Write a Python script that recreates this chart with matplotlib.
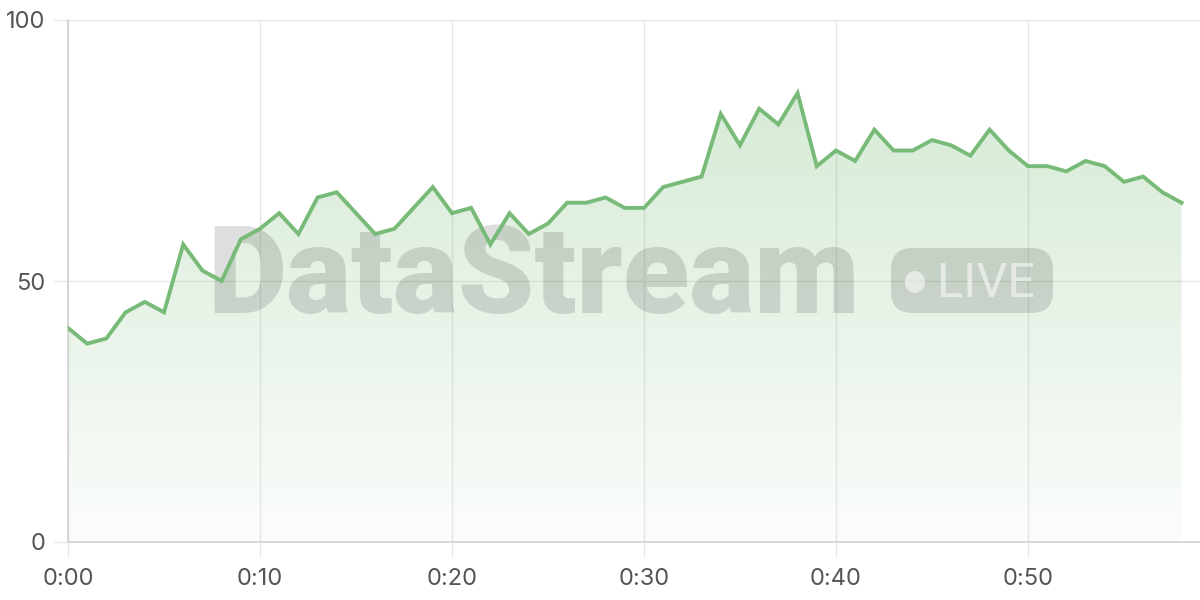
import matplotlib
matplotlib.use('Agg')
from matplotlib import pyplot as plt
from matplotlib.patches import FancyBboxPatch, Ellipse
import numpy as np

# one reading per minute, 0:00 .. 0:58
minutes = list(range(59))
values = [41, 38, 39, 44, 46, 44, 57, 52, 50, 58,
          60, 63, 59, 66, 67, 63, 59, 60, 64, 68,
          63, 64, 57, 63, 59, 61, 65, 65, 66, 64,
          64, 68, 69, 70, 82, 76, 83, 80, 86, 72,
          75, 73, 79, 75, 75, 77, 76, 74, 79, 75,
          72, 72, 71, 73, 72, 69, 70, 67, 65]
xticks = [0, 10, 20, 30, 40, 50]
yticks = [0, 50, 100]

line_color = '#78bb78'
grid_color = '#e8e8e8'
axis_color = '#d2d2d2'
label_color = '#555555'

plt.rcParams['font.family'] = ['Inter', 'DejaVu Sans']

W, H = 1200, 600
fig = plt.figure(figsize=(12, 6), dpi=100)
ax = fig.add_axes([68 / W, (H - 542) / H, (W - 68) / W, (542 - 20) / H])
ax.set_xlim(0, 58.96)
ax.set_ylim(0, 100)

# gradient fill under the line
poly = ax.fill_between(minutes, values, 0, color='none', lw=0)
grad = np.linspace(0.03, 0.30, 256).reshape(-1, 1)
rgba = np.zeros((256, 1, 4))
rgba[..., 0] = 0.47
rgba[..., 1] = 0.73
rgba[..., 2] = 0.47
rgba[..., 3] = grad
img = ax.imshow(rgba, extent=[0, 58, 0, max(values)], origin='lower',
                aspect='auto', zorder=1)
path = poly.get_paths()[0]
img.set_clip_path(path, transform=ax.transData)

ax.plot(minutes, values, color=line_color, lw=2.8, zorder=4,
        solid_joinstyle='miter')

# watermark
def px(x, y):
    return x / W, (H - y) / H

ax.text(*px(207, 313), 'DataStream', transform=fig.transFigure,
        fontsize=88, fontweight='black', family='Roboto', color='black',
        alpha=0.13, ha='left', va='baseline', zorder=3)
bx, by = px(891, 313)
badge = FancyBboxPatch((bx, by), 162 / W, 65 / H,
                       boxstyle='round,pad=0,rounding_size=0.018',
                       transform=fig.transFigure, facecolor='black',
                       alpha=0.13, lw=0, zorder=3, clip_on=False,
                       mutation_aspect=2)
ax.add_patch(badge)
ax.add_patch(Ellipse(px(915, 282), 20 / W, 22 / H, transform=fig.transFigure,
                     facecolor='white', alpha=0.55, lw=0, zorder=3,
                     clip_on=False))
ax.text(*px(937, 297), 'LIVE', transform=fig.transFigure, fontsize=35,
        family='Roboto', color='white', alpha=0.55, ha='left',
        va='baseline', zorder=3)

# axes styling
for s in ['top', 'right']:
    ax.spines[s].set_visible(False)
for s in ['left', 'bottom']:
    ax.spines[s].set_color(axis_color)
    ax.spines[s].set_linewidth(1.2)
ax.set_xticks(xticks)
ax.set_xticklabels(['0:%02d' % m for m in xticks])
ax.set_yticks(yticks)
ax.grid(True, color=grid_color, lw=1, zorder=0)
ax.set_axisbelow(True)
ax.tick_params(axis='both', length=11, width=1, color=grid_color,
               labelcolor=label_color, labelsize=17)
ax.tick_params(axis='y', pad=5)
ax.tick_params(axis='x', pad=8)

plt.savefig('out.png', dpi=100)
